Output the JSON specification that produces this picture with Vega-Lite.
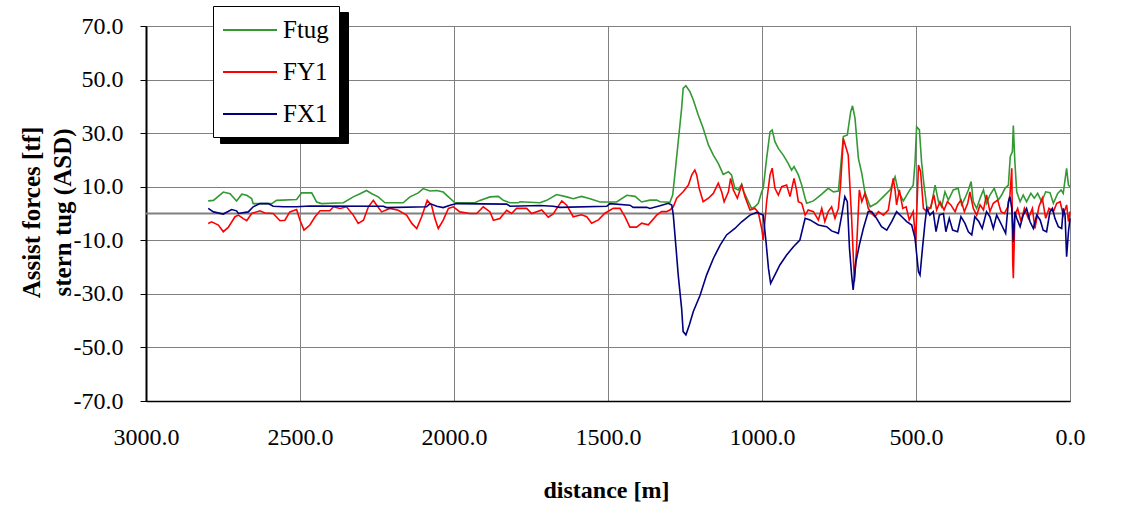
{
"$schema": "https://vega.github.io/schema/vega-lite/v6.json",
"width": 924, "height": 375,
"autosize": {"type": "none"},
"padding": {"left": 146, "top": 26, "right": 60, "bottom": 126},
"background": "white",
"config": {"font": "Liberation Serif, Times New Roman, DejaVu Serif, serif", "view": {"stroke": "#808080", "strokeWidth": 1}},
"datasets": {
"Ftug": [{"d":2798,"v":4.7},{"d":2781,"v":4.9},{"d":2749,"v":8.0},{"d":2727,"v":7.4},{"d":2706,"v":4.7},{"d":2689,"v":7.2},{"d":2673,"v":6.8},{"d":2657,"v":5.6},{"d":2652,"v":3.7},{"d":2592,"v":3.7},{"d":2576,"v":4.9},{"d":2511,"v":5.2},{"d":2495,"v":7.7},{"d":2462,"v":7.7},{"d":2446,"v":4.3},{"d":2430,"v":3.7},{"d":2359,"v":4.0},{"d":2327,"v":6.2},{"d":2305,"v":7.4},{"d":2284,"v":8.6},{"d":2267,"v":7.4},{"d":2246,"v":6.2},{"d":2224,"v":4.0},{"d":2165,"v":4.0},{"d":2143,"v":6.2},{"d":2116,"v":7.7},{"d":2100,"v":9.3},{"d":2078,"v":8.4},{"d":2056,"v":8.6},{"d":2035,"v":8.0},{"d":2018,"v":6.2},{"d":1997,"v":4.0},{"d":1932,"v":4.0},{"d":1916,"v":4.9},{"d":1883,"v":6.2},{"d":1856,"v":6.4},{"d":1840,"v":4.9},{"d":1818,"v":4.0},{"d":1791,"v":4.0},{"d":1786,"v":4.4},{"d":1721,"v":4.0},{"d":1699,"v":4.9},{"d":1667,"v":7.1},{"d":1634,"v":6.2},{"d":1613,"v":5.5},{"d":1586,"v":6.4},{"d":1558,"v":5.5},{"d":1526,"v":4.3},{"d":1472,"v":4.3},{"d":1439,"v":6.8},{"d":1412,"v":6.4},{"d":1391,"v":4.3},{"d":1364,"v":5.0},{"d":1342,"v":5.0},{"d":1331,"v":4.4},{"d":1299,"v":4.2},{"d":1290,"v":6.9},{"d":1283,"v":14.4},{"d":1272,"v":26.8},{"d":1261,"v":39.2},{"d":1256,"v":46.7},{"d":1247,"v":47.7},{"d":1234,"v":45.5},{"d":1223,"v":42.4},{"d":1207,"v":36.8},{"d":1191,"v":31.8},{"d":1174,"v":25.6},{"d":1158,"v":21.8},{"d":1142,"v":18.7},{"d":1126,"v":14.6},{"d":1109,"v":15.6},{"d":1099,"v":14.4},{"d":1088,"v":9.4},{"d":1077,"v":8.8},{"d":1066,"v":10.9},{"d":1059,"v":8.1},{"d":1044,"v":4.4},{"d":1034,"v":1.9},{"d":1023,"v":2.5},{"d":1012,"v":3.8},{"d":1001,"v":8.1},{"d":996,"v":9.4},{"d":985,"v":20.6},{"d":974,"v":30.5},{"d":967,"v":31.2},{"d":958,"v":26.8},{"d":947,"v":24.3},{"d":931,"v":21.8},{"d":915,"v":18.7},{"d":904,"v":16.2},{"d":896,"v":17.5},{"d":882,"v":14.4},{"d":871,"v":10.6},{"d":860,"v":5.7},{"d":855,"v":3.8},{"d":833,"v":4.7},{"d":806,"v":7.2},{"d":785,"v":9.4},{"d":768,"v":8.1},{"d":752,"v":8.4},{"d":745,"v":16.9},{"d":736,"v":28.7},{"d":723,"v":29.3},{"d":712,"v":38.0},{"d":706,"v":40.2},{"d":698,"v":35.5},{"d":687,"v":20.6},{"d":676,"v":15.0},{"d":666,"v":8.0},{"d":649,"v":2.5},{"d":628,"v":3.8},{"d":606,"v":6.3},{"d":584,"v":8.8},{"d":568,"v":13.7},{"d":557,"v":8.1},{"d":541,"v":4.7},{"d":520,"v":8.8},{"d":509,"v":10.6},{"d":503,"v":19.3},{"d":498,"v":32.4},{"d":489,"v":31.2},{"d":482,"v":19.3},{"d":474,"v":10.6},{"d":465,"v":2.5},{"d":452,"v":1.9},{"d":438,"v":10.6},{"d":427,"v":4.4},{"d":417,"v":2.5},{"d":406,"v":8.1},{"d":395,"v":5.0},{"d":379,"v":8.8},{"d":363,"v":9.4},{"d":352,"v":3.2},{"d":341,"v":5.7},{"d":330,"v":8.8},{"d":321,"v":11.9},{"d":314,"v":4.4},{"d":303,"v":1.9},{"d":292,"v":5.7},{"d":281,"v":8.8},{"d":271,"v":3.8},{"d":260,"v":6.9},{"d":246,"v":9.4},{"d":233,"v":5.0},{"d":222,"v":6.9},{"d":211,"v":9.4},{"d":200,"v":10.6},{"d":194,"v":21.2},{"d":187,"v":23.1},{"d":184,"v":32.8},{"d":179,"v":19.3},{"d":173,"v":8.1},{"d":162,"v":4.4},{"d":152,"v":6.9},{"d":141,"v":4.4},{"d":127,"v":7.5},{"d":116,"v":5.7},{"d":105,"v":7.5},{"d":92,"v":4.4},{"d":79,"v":8.1},{"d":65,"v":7.8},{"d":54,"v":3.8},{"d":40,"v":7.5},{"d":29,"v":8.8},{"d":22,"v":7.5},{"d":11,"v":16.9},{"d":5,"v":10.6},{"d":0,"v":10.0}],
"FY1": [{"d":2798,"v":-3.7},{"d":2787,"v":-3.1},{"d":2765,"v":-4.3},{"d":2749,"v":-6.8},{"d":2733,"v":-5.2},{"d":2711,"v":-1.2},{"d":2700,"v":-0.6},{"d":2684,"v":-1.9},{"d":2673,"v":-2.7},{"d":2657,"v":0},{"d":2630,"v":1.0},{"d":2614,"v":0.2},{"d":2587,"v":0},{"d":2565,"v":-2.7},{"d":2549,"v":-2.5},{"d":2533,"v":0.6},{"d":2511,"v":1.5},{"d":2500,"v":-2.5},{"d":2487,"v":-6.2},{"d":2468,"v":-4.3},{"d":2451,"v":-1.2},{"d":2435,"v":1.0},{"d":2403,"v":1.0},{"d":2392,"v":2.5},{"d":2370,"v":1.9},{"d":2349,"v":2.5},{"d":2327,"v":-0.6},{"d":2311,"v":-3.7},{"d":2294,"v":-2.5},{"d":2278,"v":2.5},{"d":2262,"v":4.9},{"d":2251,"v":3.1},{"d":2235,"v":0.6},{"d":2208,"v":1.9},{"d":2181,"v":1.2},{"d":2154,"v":-0.6},{"d":2137,"v":-3.7},{"d":2121,"v":-5.6},{"d":2105,"v":-1.2},{"d":2087,"v":4.9},{"d":2073,"v":3.1},{"d":2062,"v":-1.9},{"d":2051,"v":-5.6},{"d":2035,"v":-2.5},{"d":2018,"v":1.9},{"d":2002,"v":2.5},{"d":1981,"v":0.6},{"d":1948,"v":0},{"d":1926,"v":0},{"d":1905,"v":2.5},{"d":1883,"v":0.6},{"d":1872,"v":-2.5},{"d":1851,"v":-1.9},{"d":1829,"v":1.2},{"d":1813,"v":0},{"d":1797,"v":1.9},{"d":1764,"v":1.9},{"d":1748,"v":0},{"d":1715,"v":1.3},{"d":1694,"v":-1.4},{"d":1678,"v":-0.2},{"d":1650,"v":4.7},{"d":1634,"v":3.1},{"d":1613,"v":-1.2},{"d":1586,"v":-0.5},{"d":1569,"v":-1.2},{"d":1553,"v":-3.6},{"d":1531,"v":-2.4},{"d":1510,"v":0.1},{"d":1483,"v":1.9},{"d":1461,"v":1.9},{"d":1445,"v":-1.2},{"d":1429,"v":-5.1},{"d":1407,"v":-5.1},{"d":1391,"v":-3.6},{"d":1369,"v":-4.2},{"d":1342,"v":-0.6},{"d":1326,"v":0.7},{"d":1310,"v":0.7},{"d":1299,"v":1.3},{"d":1288,"v":2.5},{"d":1277,"v":5.7},{"d":1256,"v":8.1},{"d":1239,"v":10.6},{"d":1228,"v":14.4},{"d":1218,"v":16.2},{"d":1212,"v":14.4},{"d":1204,"v":9.4},{"d":1191,"v":4.4},{"d":1174,"v":5.7},{"d":1158,"v":7.5},{"d":1142,"v":11.3},{"d":1131,"v":8.1},{"d":1123,"v":4.4},{"d":1109,"v":8.1},{"d":1102,"v":13.1},{"d":1093,"v":8.8},{"d":1080,"v":5.7},{"d":1066,"v":10.6},{"d":1055,"v":6.2},{"d":1039,"v":1.3},{"d":1023,"v":1.9},{"d":1012,"v":0.4},{"d":1001,"v":-5.6},{"d":996,"v":-9.9},{"d":985,"v":4.4},{"d":974,"v":14.4},{"d":967,"v":16.9},{"d":958,"v":9.4},{"d":947,"v":6.9},{"d":936,"v":10.0},{"d":920,"v":10.6},{"d":909,"v":6.3},{"d":896,"v":13.1},{"d":888,"v":8.8},{"d":882,"v":4.4},{"d":871,"v":3.8},{"d":860,"v":-0.6},{"d":850,"v":1.3},{"d":833,"v":0.7},{"d":817,"v":-2.4},{"d":806,"v":1.9},{"d":796,"v":-3.0},{"d":785,"v":0.7},{"d":774,"v":2.5},{"d":763,"v":-1.8},{"d":752,"v":1.9},{"d":745,"v":10.6},{"d":736,"v":28.0},{"d":728,"v":24.9},{"d":720,"v":21.8},{"d":709,"v":-1.8},{"d":700,"v":-25.4},{"d":693,"v":-13.0},{"d":684,"v":8.8},{"d":676,"v":4.4},{"d":666,"v":7.5},{"d":655,"v":1.9},{"d":644,"v":0},{"d":633,"v":-1.2},{"d":622,"v":0.7},{"d":606,"v":-0.6},{"d":590,"v":1.3},{"d":574,"v":13.1},{"d":568,"v":8.8},{"d":563,"v":3.2},{"d":554,"v":8.8},{"d":543,"v":1.9},{"d":532,"v":2.5},{"d":522,"v":-2.4},{"d":509,"v":0.7},{"d":501,"v":-10.6},{"d":492,"v":18.1},{"d":485,"v":15.6},{"d":476,"v":1.9},{"d":465,"v":0.7},{"d":452,"v":2.5},{"d":442,"v":6.9},{"d":433,"v":1.3},{"d":422,"v":4.4},{"d":409,"v":1.3},{"d":398,"v":4.4},{"d":387,"v":3.2},{"d":373,"v":0.7},{"d":365,"v":3.2},{"d":354,"v":5.0},{"d":343,"v":0.7},{"d":332,"v":3.8},{"d":325,"v":8.1},{"d":314,"v":1.9},{"d":303,"v":-0.6},{"d":292,"v":3.2},{"d":281,"v":1.3},{"d":271,"v":6.9},{"d":260,"v":0.7},{"d":249,"v":3.8},{"d":235,"v":5.0},{"d":224,"v":0.7},{"d":213,"v":0},{"d":202,"v":2.5},{"d":195,"v":6.9},{"d":189,"v":16.9},{"d":186,"v":-18.0},{"d":184,"v":-24.2},{"d":179,"v":-0.6},{"d":170,"v":1.9},{"d":159,"v":-3.0},{"d":148,"v":1.9},{"d":135,"v":-1.8},{"d":122,"v":1.9},{"d":114,"v":-5.6},{"d":101,"v":2.5},{"d":90,"v":5.7},{"d":79,"v":-1.8},{"d":68,"v":1.9},{"d":54,"v":0.7},{"d":43,"v":3.8},{"d":32,"v":4.4},{"d":22,"v":-0.6},{"d":11,"v":3.2},{"d":5,"v":-3.0},{"d":0,"v":0.7}],
"FX1": [{"d":2798,"v":1.9},{"d":2781,"v":0.6},{"d":2749,"v":-0.2},{"d":2722,"v":1.5},{"d":2706,"v":1.0},{"d":2700,"v":0},{"d":2668,"v":0.6},{"d":2652,"v":2.5},{"d":2630,"v":3.7},{"d":2603,"v":3.7},{"d":2587,"v":2.7},{"d":2554,"v":2.5},{"d":2511,"v":2.5},{"d":2468,"v":2.8},{"d":2229,"v":2.7},{"d":2219,"v":2.2},{"d":2089,"v":2.5},{"d":2078,"v":3.7},{"d":2056,"v":2.7},{"d":2035,"v":2.2},{"d":2013,"v":3.1},{"d":1991,"v":3.7},{"d":1829,"v":3.5},{"d":1818,"v":2.7},{"d":1721,"v":3.0},{"d":1678,"v":2.7},{"d":1656,"v":2.3},{"d":1504,"v":2.7},{"d":1494,"v":3.7},{"d":1429,"v":3.1},{"d":1418,"v":2.3},{"d":1374,"v":2.3},{"d":1364,"v":1.9},{"d":1331,"v":2.9},{"d":1304,"v":3.8},{"d":1293,"v":3.2},{"d":1288,"v":-0.6},{"d":1279,"v":-13.0},{"d":1272,"v":-23.0},{"d":1261,"v":-35.4},{"d":1256,"v":-44.1},{"d":1247,"v":-45.3},{"d":1236,"v":-41.6},{"d":1223,"v":-36.6},{"d":1201,"v":-30.5},{"d":1180,"v":-23.0},{"d":1158,"v":-16.8},{"d":1136,"v":-11.8},{"d":1115,"v":-8.0},{"d":1088,"v":-5.6},{"d":1066,"v":-3.1},{"d":1039,"v":-0.6},{"d":1017,"v":0.4},{"d":996,"v":-0.6},{"d":987,"v":-10.5},{"d":979,"v":-20.5},{"d":972,"v":-26.1},{"d":958,"v":-22.9},{"d":942,"v":-19.2},{"d":920,"v":-15.5},{"d":898,"v":-12.4},{"d":877,"v":-9.9},{"d":860,"v":-1.8},{"d":844,"v":-2.4},{"d":817,"v":-4.3},{"d":790,"v":-4.9},{"d":774,"v":-6.5},{"d":752,"v":-7.4},{"d":741,"v":-0.6},{"d":731,"v":6.3},{"d":723,"v":4.4},{"d":716,"v":-13.0},{"d":709,"v":-23.0},{"d":704,"v":-28.5},{"d":695,"v":-18.0},{"d":684,"v":-11.8},{"d":671,"v":-5.6},{"d":655,"v":0.7},{"d":644,"v":0.7},{"d":628,"v":-1.8},{"d":612,"v":-4.9},{"d":595,"v":-6.2},{"d":579,"v":-3.0},{"d":563,"v":0.7},{"d":546,"v":-1.2},{"d":530,"v":-3.0},{"d":514,"v":-4.3},{"d":503,"v":-9.3},{"d":492,"v":-21.8},{"d":487,"v":-23.0},{"d":479,"v":-13.0},{"d":471,"v":-3.7},{"d":465,"v":1.9},{"d":455,"v":-0.6},{"d":444,"v":0.7},{"d":435,"v":-6.8},{"d":424,"v":-0.6},{"d":411,"v":0},{"d":403,"v":-6.8},{"d":392,"v":-1.8},{"d":381,"v":-6.2},{"d":365,"v":-6.8},{"d":354,"v":-1.2},{"d":341,"v":-3.7},{"d":330,"v":-6.8},{"d":319,"v":-8.0},{"d":309,"v":-1.2},{"d":296,"v":-3.0},{"d":285,"v":-5.6},{"d":271,"v":0.7},{"d":260,"v":-1.2},{"d":249,"v":-5.6},{"d":238,"v":-0.6},{"d":222,"v":-4.3},{"d":209,"v":-7.4},{"d":200,"v":4.4},{"d":195,"v":6.3},{"d":189,"v":1.9},{"d":184,"v":-10.5},{"d":179,"v":0.7},{"d":173,"v":-1.8},{"d":162,"v":-4.9},{"d":152,"v":-0.6},{"d":141,"v":1.9},{"d":130,"v":-3.0},{"d":119,"v":-5.6},{"d":108,"v":-0.6},{"d":97,"v":-2.4},{"d":87,"v":-6.2},{"d":76,"v":-6.8},{"d":65,"v":0.7},{"d":57,"v":1.9},{"d":49,"v":-1.8},{"d":38,"v":-4.9},{"d":27,"v":-5.6},{"d":22,"v":1.9},{"d":16,"v":-0.6},{"d":11,"v":-16.1},{"d":5,"v":-6.8},{"d":0,"v":-1.8}]
},
"layer": [
{"data": {"values": [{"z": 0}]},
 "mark": {"type": "rule", "color": "#808080", "strokeWidth": 2},
 "encoding": {"y": {"field": "z", "type": "quantitative"}}},
{"data": {"name": "Ftug"},
 "transform": [{"calculate": "'Ftug'", "as": "s"}, {"calculate": "datum.s", "as": "t"}],
 "mark": {"type": "line", "strokeWidth": 1.6},
 "encoding": {
  "x": {"field": "d", "type": "quantitative"},
  "y": {"field": "v", "type": "quantitative"},
  "color": {"field": "s", "type": "nominal"},
  "opacity": {"field": "t", "type": "nominal"}}},
{"data": {"name": "FY1"},
 "transform": [{"calculate": "'FY1'", "as": "s"}, {"calculate": "datum.s", "as": "t"}],
 "mark": {"type": "line", "strokeWidth": 1.6},
 "encoding": {
  "x": {"field": "d", "type": "quantitative"},
  "y": {"field": "v", "type": "quantitative"},
  "color": {"field": "s", "type": "nominal"},
  "opacity": {"field": "t", "type": "nominal"}}},
{"data": {"name": "FX1"},
 "transform": [{"calculate": "'FX1'", "as": "s"}, {"calculate": "datum.s", "as": "t"}],
 "mark": {"type": "line", "strokeWidth": 1.6},
 "encoding": {
  "x": {"field": "d", "type": "quantitative",
   "scale": {"domain": [0, 3000], "reverse": true, "nice": false, "zero": false},
   "axis": {"values": [0, 500, 1000, 1500, 2000, 2500, 3000], "format": ".1f", "title": "distance [m]",
    "ticks": false, "labelPadding": 24, "labelFont": "Liberation Serif, Times New Roman, DejaVu Serif, serif", "labelFontSize": 24, "labelColor": "black", "labelFlush": false, "labelOverlap": false,
    "titleFont": "Liberation Serif, Times New Roman, DejaVu Serif, serif", "titleFontSize": 24, "titleFontWeight": "bold", "titleColor": "black", "titleY": 77, "titleX": 460, "titleBaseline": "top",
    "domainColor": "black", "domainWidth": 1.5, "gridColor": "#808080", "gridWidth": 1}},
  "y": {"field": "v", "type": "quantitative",
   "scale": {"domain": [-70, 70], "nice": false, "zero": false},
   "axis": {"values": [-70, -50, -30, -10, 10, 30, 50, 70], "format": ".1f", "labelExpr": "replace(datum.label, '\u2212', '-')", "title": ["Assist forces [tf]", "stern tug (ASD)"],
    "titleFont": "Liberation Serif, Times New Roman, DejaVu Serif, serif", "titleFontSize": 25, "titleFontWeight": "bold", "titleColor": "black", "titleAngle": -90, "titleX": -127, "titleY": 186,
    "titleAlign": "center", "titleBaseline": "top", "titleLineHeight": 31,
    "labelFont": "Liberation Serif, Times New Roman, DejaVu Serif, serif", "labelFontSize": 24, "labelColor": "black", "labelPadding": 17, "tickSize": 6, "tickColor": "black",
    "domainColor": "black", "domainWidth": 2, "gridColor": "#808080", "gridWidth": 1}},
  "color": {"field": "s", "type": "nominal",
   "scale": {"domain": ["Ftug", "FY1", "FX1"], "range": ["#339933", "#ff0000", "#000080"]},
   "legend": {"title": null, "orient": "none", "legendX": 67, "legendY": -20, "direction": "vertical", "zindex": 2,
    "fillColor": "white", "strokeColor": "black", "padding": 9.5, "symbolType": "M-2,0H2", "symbolSize": 729,
    "symbolStrokeWidth": 2, "symbolOffset": 13, "labelFont": "Liberation Serif, Times New Roman, DejaVu Serif, serif", "labelFontSize": 25, "labelColor": "black", "labelOffset": 18.5, "rowPadding": 14}},
  "opacity": {"field": "t", "type": "nominal",
   "scale": {"range": [1, 1, 1]},
   "legend": {"title": null, "orient": "none", "legendX": 74, "legendY": -14, "direction": "vertical", "zindex": 1,
    "fillColor": "black", "strokeColor": "black", "padding": 9.5, "symbolType": "M-2,0H2", "symbolSize": 729,
    "symbolStrokeWidth": 2, "symbolStrokeColor": "black", "symbolFillColor": "black", "symbolOffset": 13, "labelExpr": "' '", "labelFont": "Liberation Serif, Times New Roman, DejaVu Serif, serif", "labelFontSize": 25, "labelColor": "black", "labelOffset": 67, "rowPadding": 14}}}}
]
}
